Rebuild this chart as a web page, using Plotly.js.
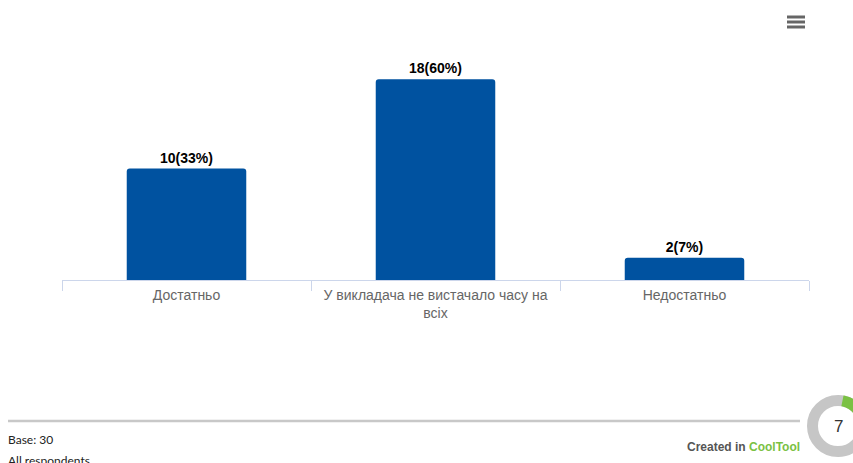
<!DOCTYPE html>
<html>
<head>
<meta charset="utf-8">
<script src="https://cdn.plot.ly/plotly-3.0.1.min.js"></script>
<style>
html,body{margin:0;padding:0;background:#fff;overflow:hidden;}
#chart{width:853px;height:463px;}
</style>
</head>
<body>
<div id="chart"></div>
<script>
const categories = ["Достатньо", "У викладача не вистачало часу на всіх", "Недостатньо"];
const tickLabels = ["Достатньо", "У викладача не вистачало часу на<br>всіх", "Недостатньо"];
const counts = [10, 18, 2];
const percents = [33, 60, 7];
const baseText = "Base: 30";
const groupText = "All respondents";
const badgeNumber = "7";

const labels = counts.map((c, i) => "<b>" + c + "(" + percents[i] + "%)</b>");

const trace = {
  type: "bar",
  x: categories,
  y: counts,
  text: labels,
  textposition: "outside",
  cliponaxis: false,
  textfont: {family: "Liberation Sans, Arial, sans-serif", size: 14, color: "#000"},
  marker: {color: "#0052a0", cornerradius: 3},
  width: 0.48,
  hoverinfo: "none"
};

// donut badge geometry (decoration)
const W = 747, H = 223, L = 62, T = 57;
const cx = (838 - L) / W, cy = (T + H - 426) / H;
const rMid = 25.5;
let arc = "";
const a0 = 10, a1 = 54;
for (let k = 0; k <= 14; k++) {
  const a = (a0 + (a1 - a0) * k / 14) * Math.PI / 180;
  const px = rMid * Math.sin(a), py = rMid * Math.cos(a);
  arc += (k === 0 ? "M" : "L") + px.toFixed(2) + "," + py.toFixed(2);
}

const px2x = p => (p - L) / W;
const py2y = p => (T + H - p) / H;

const shapes = [
  // separator line
  {type: "line", xref: "paper", yref: "paper", x0: px2x(8), x1: px2x(800), y0: py2y(421), y1: py2y(421),
   line: {color: "#c8c8c8", width: 2.5}},
  // hamburger menu
  ...[17, 22, 27].map(y => ({type: "line", xref: "paper", yref: "paper",
    x0: px2x(787), x1: px2x(805), y0: py2y(y), y1: py2y(y), line: {color: "#666", width: 3}})),
  // donut ring
  {type: "circle", xref: "paper", yref: "paper", xsizemode: "pixel", ysizemode: "pixel",
   xanchor: cx, yanchor: cy, x0: -rMid, x1: rMid, y0: -rMid, y1: rMid,
   fillcolor: "#fff", line: {color: "#c6c6c6", width: 11}},
  {type: "path", xref: "paper", yref: "paper", xsizemode: "pixel", ysizemode: "pixel",
   xanchor: cx, yanchor: cy, path: arc, line: {color: "#7ac143", width: 11}}
];

const annotations = [
  {xref: "paper", yref: "paper", x: px2x(6), y: py2y(440), xanchor: "left", yanchor: "middle",
   text: baseText, showarrow: false, font: {family: "Lato, sans-serif", size: 12, color: "#222"}},
  {xref: "paper", yref: "paper", x: px2x(6), y: py2y(460), xanchor: "left", yanchor: "middle",
   text: groupText, showarrow: false, font: {family: "Lato, sans-serif", size: 12, color: "#222"}},
  {xref: "paper", yref: "paper", x: px2x(802), y: py2y(447), xanchor: "right", yanchor: "middle",
   text: "<b><span style='color:#555'>Created in </span><span style='color:#7ac143'>CoolTool</span></b>",
   showarrow: false, font: {family: "Liberation Sans, Arial, sans-serif", size: 12}},
  {xref: "paper", yref: "paper", x: cx, y: cy, xanchor: "center", yanchor: "middle",
   text: badgeNumber, showarrow: false, font: {family: "Liberation Sans, Arial, sans-serif", size: 17, color: "#333"}}
];

const layout = {
  width: 853, height: 463,
  margin: {l: L, r: 853 - L - W, t: T, b: 463 - T - H, pad: 0},
  paper_bgcolor: "#fff", plot_bgcolor: "#fff",
  showlegend: false,
  xaxis: {
    type: "category",
    range: [-0.5, 2.5],
    tickvals: categories,
    ticktext: tickLabels,
    tickson: "boundaries",
    ticks: "outside",
    ticklen: 10,
    tickcolor: "#ccd6eb",
    tickwidth: 1,
    ticklabelstandoff: 2,
    showline: true,
    linecolor: "#ccd6eb",
    linewidth: 1,
    showgrid: false,
    zeroline: false,
    tickfont: {family: "Liberation Sans, Arial, sans-serif", size: 14, color: "#666"},
    fixedrange: true
  },
  yaxis: {
    range: [0, 20],
    visible: false,
    showgrid: false,
    zeroline: false,
    fixedrange: true
  },
  shapes: shapes,
  annotations: annotations
};

Plotly.newPlot("chart", [trace], layout, {displayModeBar: false, staticPlot: true});
</script>
</body>
</html>
